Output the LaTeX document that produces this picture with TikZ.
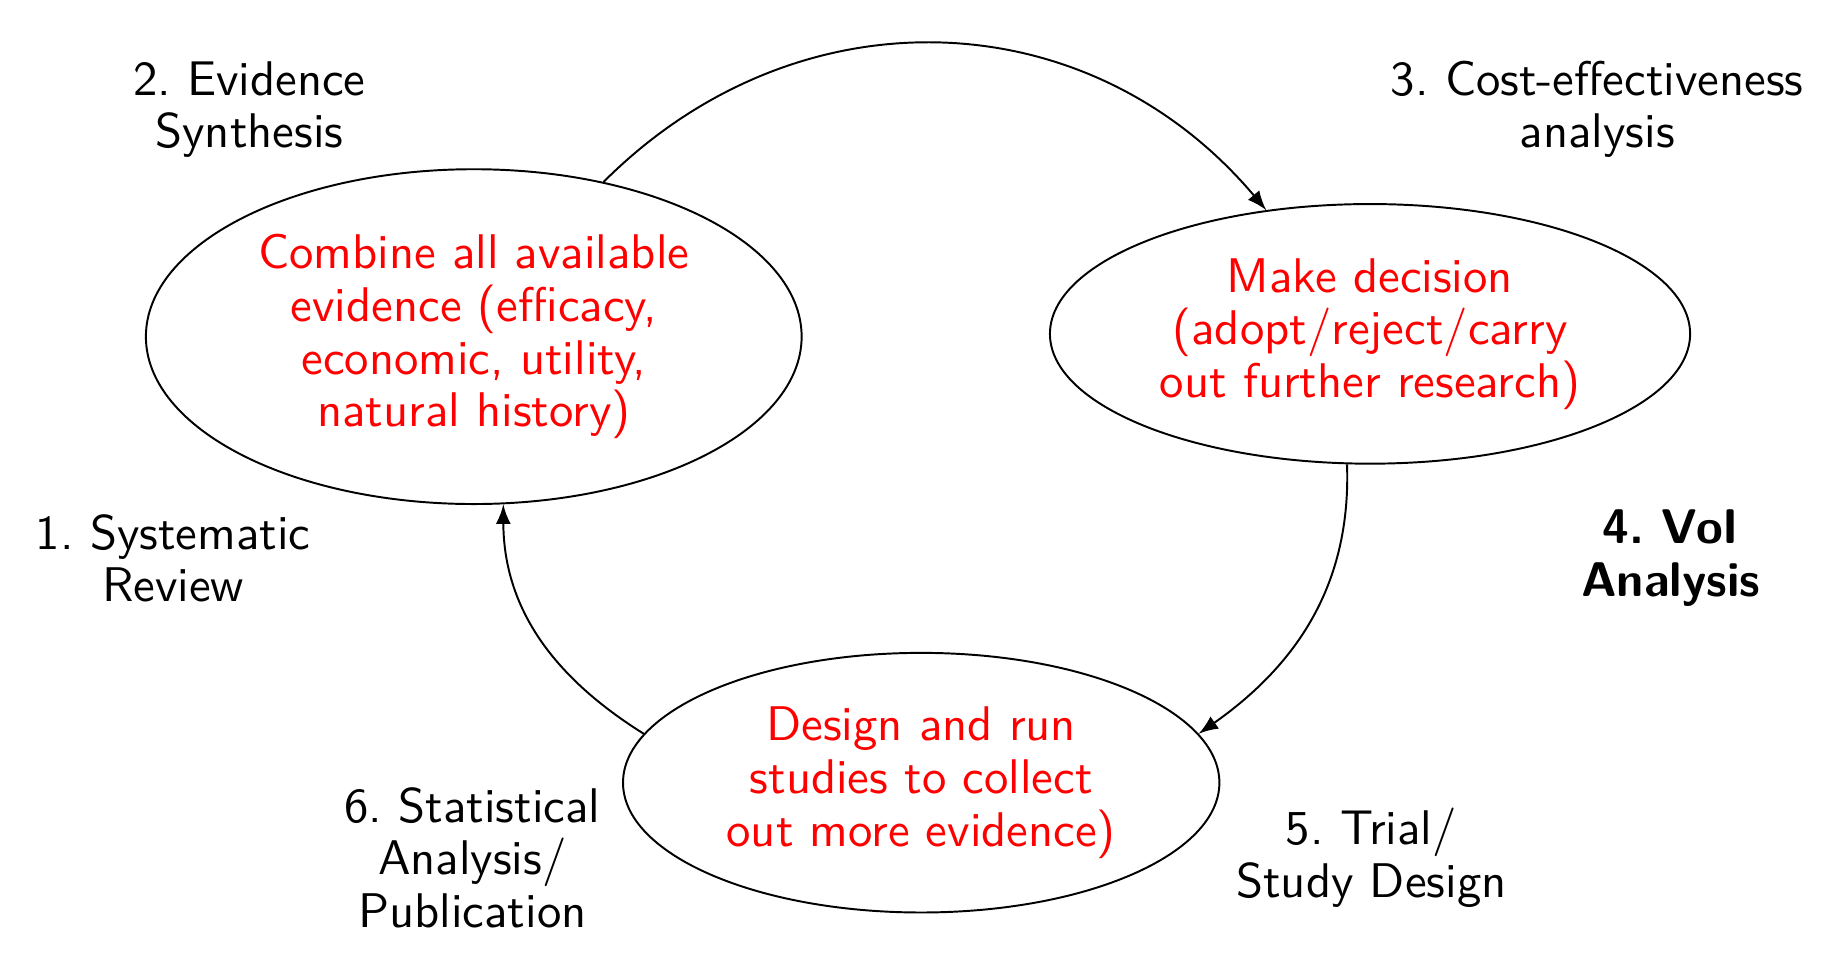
\documentclass[tikz,border=0pt]{standalone}
\usetikzlibrary{shapes.geometric}
\begin{document}
\frenchspacing
\begin{tikzpicture}[font=\sffamily\fontsize{10}{10.8}\selectfont,
  stage/.style={draw,ellipse,align=center,text=red},
  lbl/.style={align=center}]
\useasboundingbox (0,0) rectangle (13.16,7.00);
% the three stages
\node[stage] (synth) at (3.42,4.57) {Combine all available \\ evidence (efficacy, \\ economic, utility, \\ natural history)};
\node[stage] (decide) at (9.89,4.59) {Make decision \\ (adopt/reject/carry \\ out further research)};
\node[stage] (study) at (6.65,1.35) {Design and run \\ studies to collect \\ out more evidence)};
% step labels
\node[lbl] (sysrev) at (1.25,2.97) {1. Systematic \\ Review};
\node[lbl] (evsyn) at (1.80,6.21) {2. Evidence \\ Synthesis};
\node[lbl] (cea) at (11.53,6.21) {3. Cost-effectiveness \\ analysis};
\node[lbl] (voi) at (12.06,2.97) {\textbf{4. VoI} \\ \textbf{Analysis}};
\node[lbl] (trial) at (9.90,0.81) {5. Trial/ \\ Study Design};
\node[lbl] (stats) at (3.41,0.81) {6. Statistical \\ Analysis/ \\ Publication};
% cycle
\draw[-latex] (synth.50) to[out=45,in=130,looseness=1.06] (decide.130);
\draw[-latex] (decide.260) to[out=-88,in=35] (study.10);
\draw[-latex] (study.170) to[out=148,in=-90] (synth.280);
\end{tikzpicture}
\end{document}
